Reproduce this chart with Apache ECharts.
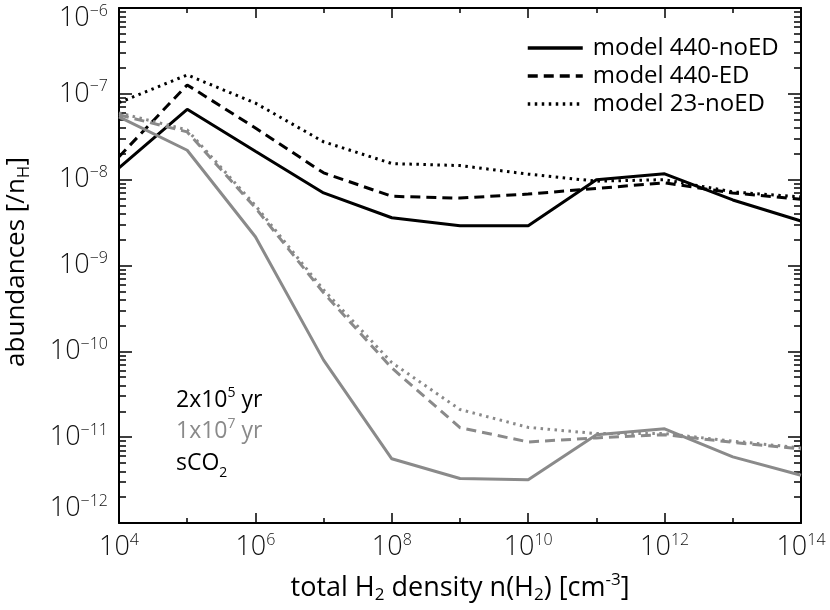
<!DOCTYPE html>
<html>
<head>
<meta charset="utf-8">
<script src="https://cdn.jsdelivr.net/npm/echarts@6/dist/echarts.min.js"></script>
<style>
  html, body { margin: 0; padding: 0; background: #fff; }
  #chart { width: 830px; height: 610px; }
</style>
</head>
<body>
<div id="chart"></div>
<script>
// total H2 density n(H2) [cm^-3]
const density = [1e4, 1e5, 1e6, 1e7, 1e8, 1e9, 1e10, 1e11, 1e12, 1e13, 1e14];

// sCO2 abundances at 2x10^5 yr (black)
const m440noED_early = [1.37e-8, 6.6e-8, 2.14e-8, 7.0e-9, 3.6e-9, 2.9e-9, 2.9e-9, 1.0e-8, 1.17e-8, 5.8e-9, 3.3e-9];
const m440ED_early = [1.85e-8, 1.27e-7, 4.0e-8, 1.2e-8, 6.4e-9, 6.1e-9, 6.8e-9, 7.9e-9, 9.2e-9, 7.0e-9, 5.9e-9];
const m23noED_early = [7.9e-8, 1.66e-7, 7.8e-8, 2.76e-8, 1.54e-8, 1.46e-8, 1.16e-8, 9.6e-9, 1.0e-8, 7.2e-9, 6.3e-9];

// sCO2 abundances at 1x10^7 yr (grey)
const m440noED_late = [5.4e-8, 2.2e-8, 2.16e-9, 7.9e-11, 5.6e-12, 3.3e-12, 3.2e-12, 1.07e-11, 1.25e-11, 5.9e-12, 3.6e-12];
const m440ED_late = [5.7e-8, 3.6e-8, 4.7e-9, 4.8e-10, 6.4e-11, 1.29e-11, 8.8e-12, 9.8e-12, 1.07e-11, 8.7e-12, 7.3e-12];
const m23noED_late = [6.0e-8, 3.8e-8, 5.0e-9, 5.2e-10, 7.4e-11, 2.1e-11, 1.3e-11, 1.1e-11, 1.1e-11, 9.0e-12, 7.5e-12];

const modelNames = ["model 440-noED", "model 440-ED", "model 23-noED"];

// axis ticks
const xLongTicks = [1e4, 1e6, 1e8, 1e10, 1e12, 1e14];
const xShortTicks = [1e5, 1e7, 1e9, 1e11, 1e13];
const yMajorTicks = [1e-12, 1e-11, 1e-10, 1e-9, 1e-8, 1e-7, 1e-6];
const yMinorTicks = [];
for (let d = 0; d < yMajorTicks.length - 1; d++) {
  for (let k = 2; k <= 9; k++) {
    yMinorTicks.push(k * yMajorTicks[d]);
  }
}

const FONT = "'Open Sans', 'Noto Sans', sans-serif";
const GREY = "#8a8a8a";

function pairs(ys) {
  return density.map(function (x, i) { return [x, ys[i]]; });
}

function expOf(v) {
  return Math.round(Math.log10(v));
}

let tickRich = {
  b: { fontSize: 27, fontWeight: 300, lineHeight: 30, color: "#111", fontFamily: FONT },
  s: { fontSize: 16, fontWeight: 300, lineHeight: 16, verticalAlign: "top", color: "#111", fontFamily: FONT },
  up: { fontSize: 10, lineHeight: 30 },
  dn: { fontSize: 10, lineHeight: 20 }
};

let chart = echarts.init(document.getElementById("chart"), null, { renderer: "canvas" });

let logX = { type: "log", logBase: 10, min: 1e4, max: 1e14, splitLine: { show: false } };
let logY = { type: "log", logBase: 10, min: 1e-12, max: 1e-6, splitLine: { show: false } };
let frameLine = { show: true, lineStyle: { color: "#000", width: 2 } };

let option = {
  animation: false,
  backgroundColor: "#fff",
  textStyle: { fontFamily: FONT },
  grid: [
    { left: 119, right: 29, top: 8, bottom: 87, outerBoundsMode: "none" },
    { left: 119, right: 29, top: 8, bottom: 87, outerBoundsMode: "none" }
  ],
  legend: {
    orient: "vertical",
    left: 521,
    top: 31,
    itemWidth: 55,
    itemHeight: 14,
    itemGap: 4,
    data: modelNames,
    itemStyle: { opacity: 0 },
    lineStyle: { width: 3.5 },
    textStyle: { fontSize: 24, color: "#000", fontFamily: FONT, padding: [0, 0, 0, 5] }
  },
  xAxis: [
    Object.assign({}, logX, {
      gridIndex: 0, position: "bottom",
      axisLine: frameLine,
      axisTick: { inside: true, length: 10, lineStyle: { width: 1.5, color: "#000" }, customValues: xLongTicks },
      axisLabel: {
        margin: 9,
        customValues: xLongTicks,
        formatter: function (v) { return "{b|10}{s|" + expOf(v) + "}"; },
        rich: tickRich
      }
    }),
    Object.assign({}, logX, {
      gridIndex: 0, position: "top",
      axisLine: frameLine,
      axisTick: { inside: true, length: 10, lineStyle: { width: 1.5, color: "#000" }, customValues: xLongTicks },
      axisLabel: { show: false }
    }),
    Object.assign({}, logX, {
      gridIndex: 1, position: "bottom",
      axisLine: { show: false },
      axisTick: { inside: true, length: 5, lineStyle: { width: 1.5, color: "#000" }, customValues: xShortTicks },
      axisLabel: { show: false }
    }),
    Object.assign({}, logX, {
      gridIndex: 1, position: "top",
      axisLine: { show: false },
      axisTick: { inside: true, length: 5, lineStyle: { width: 1.5, color: "#000" }, customValues: xShortTicks },
      axisLabel: { show: false }
    })
  ],
  yAxis: [
    Object.assign({}, logY, {
      gridIndex: 0, position: "left",
      axisLine: frameLine,
      axisTick: { inside: true, length: 13, lineStyle: { width: 1.5, color: "#000" }, customValues: yMajorTicks },
      axisLabel: {
        margin: 11,
        customValues: yMajorTicks,
        formatter: function (v) {
          let e = expOf(v);
          let txt = "{b|10}{s|\u2212" + Math.abs(e) + "}";
          if (e === -12) return txt + "\n{up| }";
          if (e === -6) return "{dn| }\n" + txt;
          return txt;
        },
        rich: tickRich
      }
    }),
    Object.assign({}, logY, {
      gridIndex: 0, position: "right",
      axisLine: frameLine,
      axisTick: { inside: true, length: 13, lineStyle: { width: 1.5, color: "#000" }, customValues: yMajorTicks },
      axisLabel: { show: false }
    }),
    Object.assign({}, logY, {
      gridIndex: 1, position: "left",
      axisLine: { show: false },
      axisTick: { inside: true, length: 7, lineStyle: { width: 1.5, color: "#000" }, customValues: yMinorTicks },
      axisLabel: { show: false }
    }),
    Object.assign({}, logY, {
      gridIndex: 1, position: "right",
      axisLine: { show: false },
      axisTick: { inside: true, length: 7, lineStyle: { width: 1.5, color: "#000" }, customValues: yMinorTicks },
      axisLabel: { show: false }
    })
  ],
  graphic: [
    {
      type: "text", x: 460, y: 588,
      style: {
        text: "{a|total H}{u|2}{a| density n(H}{u|2}{a|) [cm}{p|-3}{a|]}",
        align: "center", verticalAlign: "middle",
        rich: {
          a: { fontSize: 27, lineHeight: 32, fill: "#000", fontFamily: FONT },
          u: { fontSize: 17, lineHeight: 32, verticalAlign: "bottom", fill: "#000", fontFamily: FONT },
          p: { fontSize: 17, lineHeight: 32, verticalAlign: "top", fill: "#000", fontFamily: FONT }
        }
      }
    },
    {
      type: "text", x: 17, y: 262, rotation: Math.PI / 2,
      style: {
        text: "{a|abundances [/n}{u|H}{a|]}",
        align: "center", verticalAlign: "middle",
        rich: {
          a: { fontSize: 26, lineHeight: 32, fill: "#000", fontFamily: FONT },
          u: { fontSize: 17, lineHeight: 32, verticalAlign: "bottom", fill: "#000", fontFamily: FONT }
        }
      }
    },
    {
      type: "text", x: 176, y: 386,
      style: {
        text: "{a|2x10}{p|5}{a| yr}",
        rich: {
          a: { fontSize: 23, lineHeight: 28, fill: "#000", fontFamily: FONT },
          p: { fontSize: 14, lineHeight: 28, verticalAlign: "top", fill: "#000", fontFamily: FONT }
        }
      }
    },
    {
      type: "text", x: 176, y: 417,
      style: {
        text: "{a|1x10}{p|7}{a| yr}",
        rich: {
          a: { fontSize: 23, lineHeight: 28, fill: GREY, fontFamily: FONT },
          p: { fontSize: 14, lineHeight: 28, verticalAlign: "top", fill: GREY, fontFamily: FONT }
        }
      }
    },
    {
      type: "text", x: 176, y: 446,
      style: {
        text: "{a|sCO}{u|2}",
        rich: {
          a: { fontSize: 23, lineHeight: 28, fill: "#000", fontFamily: FONT },
          u: { fontSize: 14, lineHeight: 34, verticalAlign: "bottom", fill: "#000", fontFamily: FONT }
        }
      }
    }
  ],
  series: [
    {
      name: modelNames[0], type: "line", symbol: "none", data: pairs(m440noED_early),
      itemStyle: { color: "#000" }, lineStyle: { color: "#000", width: 3, type: "solid" }
    },
    {
      name: modelNames[1], type: "line", symbol: "none", data: pairs(m440ED_early),
      itemStyle: { color: "#000" }, lineStyle: { color: "#000", width: 3, type: [10, 6] }
    },
    {
      name: modelNames[2], type: "line", symbol: "none", data: pairs(m23noED_early),
      itemStyle: { color: "#000" }, lineStyle: { color: "#000", width: 3, type: [2.5, 4.5] }
    },
    {
      name: modelNames[0], type: "line", symbol: "none", data: pairs(m440noED_late),
      itemStyle: { color: GREY }, lineStyle: { color: GREY, width: 3, type: "solid" }
    },
    {
      name: modelNames[1], type: "line", symbol: "none", data: pairs(m440ED_late),
      itemStyle: { color: GREY }, lineStyle: { color: GREY, width: 3, type: [10, 6] }
    },
    {
      name: modelNames[2], type: "line", symbol: "none", data: pairs(m23noED_late),
      itemStyle: { color: GREY }, lineStyle: { color: GREY, width: 3, type: [2.5, 4.5] }
    }
  ]
};

chart.setOption(option);
</script>
</body>
</html>
